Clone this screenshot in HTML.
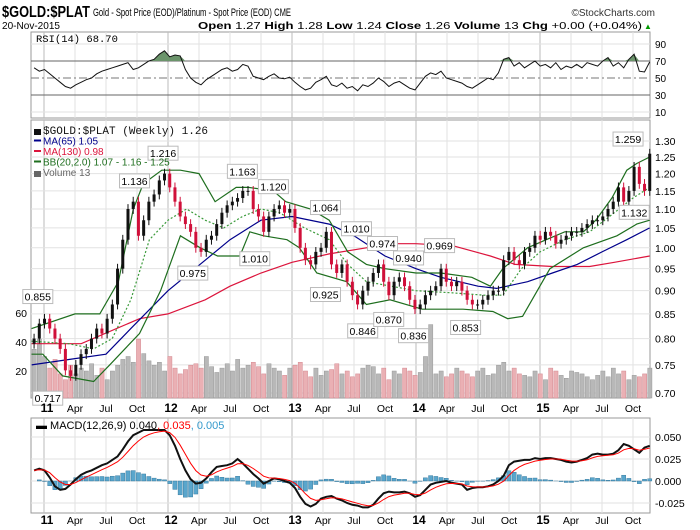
<!DOCTYPE html>
<html><head><meta charset="utf-8"><style>
body{margin:0;background:#fff}
svg{display:block;font-family:"Liberation Sans Narrow","Liberation Sans",sans-serif}
</style></head><body>
<svg id="c" width="700" height="530" viewBox="0 0 700 530">
<text x="2" y="17" font-size="16" font-weight="bold" textLength="88" lengthAdjust="spacingAndGlyphs">$GOLD:$PLAT</text>
<text x="93" y="16" font-size="11" textLength="198" lengthAdjust="spacingAndGlyphs">Gold - Spot Price (EOD)/Platinum  - Spot Price (EOD)  CME</text>
<text x="655" y="16" font-size="10" text-anchor="end" fill="#333">©StockCharts.com</text>
<text x="2" y="29" font-size="10.5" textLength="58" lengthAdjust="spacingAndGlyphs">20-Nov-2015</text>
<text x="198" y="29" font-size="10.5" textLength="444" lengthAdjust="spacingAndGlyphs"><tspan font-weight="bold">Open</tspan> 1.27 <tspan font-weight="bold">High</tspan> 1.28 <tspan font-weight="bold">Low</tspan> 1.24 <tspan font-weight="bold">Close</tspan> 1.26 <tspan font-weight="bold">Volume</tspan> 13 <tspan font-weight="bold">Chg</tspan> +0.00 (+0.04%)</text>
<text x="644" y="29" font-size="8" fill="#090">▲</text>
</svg>
<script>
const closes=[.80,.83,.84,.82,.80,.78,.74,.73,.75,.77,.78,.80,.82,.81,.84,.87,.95,1.02,1.10,1.12,1.03,1.07,1.12,1.14,1.18,1.20,
1.16,1.12,1.08,1.06,1.04,1.00,.99,1.02,1.03,1.06,1.09,1.11,1.12,1.13,1.15,1.15,1.10,1.08,1.04,1.08,1.10,1.11,1.09,1.10,
1.05,1.00,.97,.96,.99,1.00,1.04,.96,.94,.96,.92,.89,.87,.90,.92,.94,.96,.92,.89,.92,.93,.91,.88,.86,
.87,.89,.90,.91,.95,.92,.91,.92,.90,.88,.87,.87,.88,.89,.90,.90,.97,.99,.97,.96,.99,1.00,1.03,1.02,
1.04,1.03,1.01,1.02,1.03,1.04,1.04,1.05,1.06,1.07,1.07,1.08,1.10,1.12,1.16,1.12,1.15,1.22,1.17,1.15,1.26];
const volumes=[35,42,30,22,28,18,14,24,18,22,20,25,17,22,14,20,24,28,30,26,42,32,27,24,26,20,30,22,18,21,24,25,22,30,23,19,22,25,20,28,22,24,26,23,18,25,22,20,17,22,24,26,20,16,22,17,20,21,25,18,20,16,18,22,24,23,18,22,14,20,18,22,20,17,19,30,52,18,20,16,18,22,20,18,16,20,22,17,18,24,26,20,22,18,17,16,20,18,14,22,20,17,15,20,19,18,16,14,17,20,16,22,18,20,14,17,16,18,22];
const rsi=[62,58,60,55,50,45,40,38,42,45,48,50,55,58,60,62,64,66,68,60,62,66,70,72,78,82,75,77,76,60,50,45,42,48,52,56,60,62,58,60,66,64,52,50,48,52,55,50,49,51,45,40,36,38,45,48,52,42,40,44,38,40,35,42,40,44,50,46,40,44,46,42,38,36,44,52,56,54,58,50,48,46,44,40,38,42,46,50,48,56,72,74,64,68,62,66,70,64,66,62,68,60,64,62,66,62,68,66,64,70,74,64,68,62,72,78,58,57,69];
const macd=[.012,.014,.012,.004,-.006,-.010,-.009,-.004,.002,.007,.010,.012,.015,.018,.020,.024,.028,.036,.045,.052,.055,.058,.058,.058,.058,.058,.052,.040,.025,.012,.002,-.003,-.002,.003,.010,.016,.017,.018,.020,.025,.020,.014,.008,.003,-.003,.000,.003,.002,.000,-.002,-.008,-.018,-.026,-.029,-.026,-.020,-.018,-.017,-.020,-.022,-.025,-.027,-.028,-.030,-.030,-.027,-.020,-.014,-.012,-.013,-.013,-.012,-.014,-.018,-.016,-.010,-.004,-.002,-.001,.000,-.002,-.003,-.004,-.010,-.008,-.007,-.007,-.006,-.004,.000,.006,.018,.022,.023,.024,.024,.026,.025,.026,.026,.025,.024,.022,.021,.022,.024,.026,.030,.031,.030,.030,.031,.035,.042,.040,.036,.032,.038,.040];
const ma65=[[2010.9,.75],[2011.2,.76],[2011.5,.77],[2011.7,.82],[2012.0,.90],[2012.3,.97],[2012.5,1.02],[2012.75,1.07],[2013.0,1.08],[2013.3,1.06],[2013.5,1.03],[2013.75,.98],[2014.0,.95],[2014.2,.93],[2014.5,.91],[2014.65,.905],[2014.9,.92],[2015.1,.94],[2015.3,.96],[2015.5,.99],[2015.7,1.02],[2015.885,1.05]];
const ma130=[[2010.9,.79],[2011.3,.79],[2011.77,.84],[2012.0,.85],[2012.3,.88],[2012.5,.91],[2012.75,.94],[2013.0,.965],[2013.3,.985],[2013.6,1.0],[2013.8,1.01],[2014.0,1.01],[2014.3,1.005],[2014.6,.98],[2014.8,.96],[2015.1,.955],[2015.4,.955],[2015.6,.965],[2015.885,.98]];
const bbUpper=[[2010.9,.82],[2011.25,.85],[2011.45,.85],[2011.6,.92],[2011.72,1.10],[2011.8,1.17],[2011.95,1.21],[2012.1,1.21],[2012.25,1.20],[2012.38,1.12],[2012.55,1.16],[2012.65,1.16],[2012.85,1.15],[2012.95,1.12],[2013.15,1.10],[2013.3,1.07],[2013.45,.99],[2013.6,.96],[2013.75,.95],[2014.0,.94],[2014.2,.94],[2014.45,.93],[2014.6,.91],[2014.7,.95],[2014.9,1.0],[2015.05,1.02],[2015.2,1.04],[2015.35,1.04],[2015.45,1.07],[2015.58,1.13],[2015.7,1.21],[2015.78,1.23],[2015.885,1.25]];
const bbLower=[[2010.9,.77],[2010.99,.77],[2011.15,.73],[2011.4,.72],[2011.53,.75],[2011.77,.81],[2011.94,.90],[2012.1,1.03],[2012.26,1.0],[2012.4,.98],[2012.58,.98],[2012.66,1.04],[2012.77,1.03],[2012.96,1.02],[2013.06,1.0],[2013.2,.94],[2013.44,.92],[2013.6,.87],[2013.79,.88],[2014.05,.86],[2014.38,.86],[2014.62,.855],[2014.74,.84],[2014.86,.845],[2015.08,.95],[2015.35,1.0],[2015.62,1.03],[2015.78,1.06],[2015.885,1.07]];
const bbMid=[[2010.9,.795],[2011.2,.79],[2011.4,.78],[2011.55,.80],[2011.7,.88],[2011.85,1.02],[2012.0,1.07],[2012.15,1.10],[2012.3,1.07],[2012.45,1.05],[2012.6,1.08],[2012.75,1.10],[2012.9,1.09],[2013.1,1.05],[2013.3,1.02],[2013.45,.96],[2013.6,.92],[2013.8,.91],[2014.0,.90],[2014.3,.895],[2014.55,.89],[2014.7,.89],[2014.85,.95],[2015.0,.99],[2015.2,1.02],[2015.4,1.04],[2015.6,1.09],[2015.75,1.13],[2015.885,1.16]];
const annotations=[[2010.95,.855,1],[2011.03,.717,0],[2011.73,1.136,1],[2011.96,1.216,1],[2012.20,.975,0],[2012.60,1.163,1],[2012.70,1.010,0],[2012.85,1.120,1],[2013.27,1.064,1],[2013.27,.925,0],[2013.52,1.010,1],[2013.57,.846,0],[2013.73,.974,1],[2013.78,.870,0],[2013.94,.940,1],[2013.98,.836,0],[2014.19,.969,1],[2014.40,.853,0],[2015.71,1.259,1],[2015.76,1.132,0]];
const priceTicks=[.70,.75,.80,.85,.90,.95,1.00,1.05,1.10,1.15,1.20,1.25,1.30];
const volTicks=[20,40,60];
const rsiTicks=[10,30,50,70,90];
const macdTicks=[-.025,0,.025,.05];
const xLabels=[["11",2011,1],["Apr",2011.25,0],["Jul",2011.5,0],["Oct",2011.75,0],["12",2012,1],["Apr",2012.25,0],["Jul",2012.5,0],["Oct",2012.75,0],["13",2013,1],["Apr",2013.25,0],["Jul",2013.5,0],["Oct",2013.75,0],["14",2014,1],["Apr",2014.25,0],["Jul",2014.5,0],["Oct",2014.75,0],["15",2015,1],["Apr",2015.25,0],["Jul",2015.5,0],["Oct",2015.75,0]];

const svg=document.getElementById('c');const NS='http://www.w3.org/2000/svg';
function mk(t,a,p){const e=document.createElementNS(NS,t);for(const k in a)e.setAttribute(k,a[k]);(p||svg).appendChild(e);return e;}
const L=31,R=650;
const X=yr=>44+(yr-2011)*124;
const t0=2010.92,step=(2015.885-2010.92)/(closes.length-1);
const dateAt=i=>t0+i*step;
const Y=p=>141+(Math.log(1.3)-Math.log(p))*407;
const VY=v=>400-v*1.45;
const RY=v=>61+(70-v)*0.85;
const MY=v=>481-v*880;

function panel(top,bot,name){
  const r=mk('rect',{x:L,y:top,width:R-L,height:bot-top,fill:'#fff',stroke:'#999'});
  
  
  xLabels.forEach(l=>{const ln=mk('line',{x1:X(l[1]),x2:X(l[1]),y1:top,y2:bot,stroke:l[2]?'#bbb':'#e2e2e2'});
    
    });
}
function poly(pts,fy,attrs,name){
  const p=mk('polyline',Object.assign({points:pts.map(d=>X(d[0]).toFixed(1)+','+fy(d[1]).toFixed(1)).join(' '),fill:'none'},attrs));
  
  
  return p;
}

// RSI panel
panel(32,118,'rsi-panel');
rsiTicks.forEach(v=>{
  const ln=mk('line',{x1:L,x2:R,y1:RY(v),y2:RY(v),stroke:(v==70||v==30)?'#666':(v==50?'#777':'#e2e2e2'),'stroke-dasharray':v==50?'8,3,2,3':'none'});
  
  
  const t=mk('text',{x:655,y:RY(v)+4,'font-size':10});t.textContent=v;
  
  
});
const rsiPts=rsi.map((v,i)=>[dateAt(i),v]);
const cp=mk('clipPath',{id:'ob'});mk('rect',{x:L,y:32,width:R-L,height:RY(70)-32},cp);
const rsiFill=mk('polygon',{points:rsiPts.map(d=>X(d[0]).toFixed(1)+','+Math.min(RY(d[1]),RY(70)).toFixed(1)).join(' ')+' '+X(rsiPts[rsiPts.length-1][0])+','+RY(70)+' '+X(rsiPts[0][0])+','+RY(70),fill:'#6b946b','clip-path':'url(#ob)'});


poly(rsiPts,RY,{stroke:'#111','stroke-width':1},'rsi-line');
const rl=mk('text',{x:36,y:42,'font-size':10.5,'font-family':'Liberation Mono,monospace'});rl.textContent='RSI(14) 68.70';



// Main panel
panel(120,398,'price-panel');
priceTicks.forEach(p=>{
  const ln=mk('line',{x1:L,x2:R,y1:Y(p),y2:Y(p),stroke:'#e2e2e2'});
  
  
  const t=mk('text',{x:655,y:Y(p)+4,'font-size':10.5});t.textContent=p.toFixed(2);
  
  
});
volTicks.forEach(v=>{const t=mk('text',{x:27,y:VY(v)+4,'font-size':10.5,'text-anchor':'end'});t.textContent=v;
  
  });
closes.forEach((c,i)=>{
  const up=i==0||c>=closes[i-1];const v=volumes[i]||15;
  const b=mk('rect',{x:X(dateAt(i))-2,y:VY(v),width:4.2,height:398-VY(v),fill:up?'#b8b8b8':'#eab0b4',stroke:up?'#999':'#d48890','stroke-width':.5});
  
  
});
poly(ma130,Y,{stroke:'#dc143c','stroke-width':1.2},'ma130-line');
poly(ma65,Y,{stroke:'#00008b','stroke-width':1.2},'ma65-line');
poly(bbUpper,Y,{stroke:'#1e6e1e','stroke-width':1.2},'bb-upper');
poly(bbLower,Y,{stroke:'#1e6e1e','stroke-width':1.2},'bb-lower');
poly(bbMid,Y,{stroke:'#3a9a3a','stroke-width':1.2,'stroke-dasharray':'2,2'},'bb-middle');
closes.forEach((c,i)=>{
  const o=i==0?.79:closes[i-1];const x=X(dateAt(i));const up=c>=o;
  const col=up?'#111':'#d0103a';
  const hi=Math.max(o,c)*1.012,lo=Math.min(o,c)*0.988;
  const g=mk('g',{});
  
  
  mk('line',{x1:x,x2:x,y1:Y(hi),y2:Y(lo),stroke:col,'stroke-width':1},g);
  mk('rect',{x:x-1.5,y:Math.min(Y(o),Y(c)),width:3,height:Math.max(1,Math.abs(Y(o)-Y(c))),fill:col},g);
});
annotations.forEach(a=>{
  const x=X(a[0]),y=Y(a[1]);const g=mk('g',{});
  
  
  const by=a[2]?y-22:y+8;
  mk('rect',{x:x-15,y:by,width:30,height:14,fill:'#fff',stroke:'#bbb'},g);
  const t=mk('text',{x:x,y:by+11,'font-size':10.5,'text-anchor':'middle'},g);t.textContent=a[1].toFixed(3);
});
const leg=[['$GOLD:$PLAT (Weekly) 1.26','#111'],['MA(65) 1.05','#00008b'],['MA(130) 0.98','#dc143c'],['BB(20,2.0) 1.07 - 1.16 - 1.25','#1e6e1e'],['Volume 13','#666']];
leg.forEach((l,i)=>{
  const y=134+i*10.5;
  const m=mk('rect',{x:34,y:y-5,width:7,height:i==0||i==4?6:2,fill:l[1]});
  
  
  const t=mk('text',{x:43,y:y,'font-size':i==0?11:10,fill:l[1],'font-family':i==0?'Liberation Mono,monospace':'inherit'});t.textContent=l[0];
  
  
});

// MACD
panel(418,513,'macd-panel');
macdTicks.forEach(v=>{
  const ln=mk('line',{x1:L,x2:R,y1:MY(v),y2:MY(v),stroke:'#e2e2e2'});
  
  
  const t=mk('text',{x:655,y:MY(v)+4,'font-size':10.5});t.textContent=v.toFixed(3);
  
  
});
const signal=[];let s=macd[0];macd.forEach(v=>{s=s+(v-s)*0.36;signal.push(s);});
macd.forEach((v,i)=>{
  const h=v-signal[i];const x=X(dateAt(i));
  const b=mk('rect',{x:x-2.1,y:Math.min(MY(0),MY(h)),width:4.2,height:Math.abs(MY(h)-MY(0)),fill:'#5aa6cc',stroke:'#2a6f95','stroke-width':.4});
  
  
});
poly(macd.map((v,i)=>[dateAt(i),v]),MY,{stroke:'#111','stroke-width':2},'macd-line');
poly(signal.map((v,i)=>[dateAt(i),v]),MY,{stroke:'#f00','stroke-width':1},'macd-signal-line');
const ml=mk('text',{x:36,y:429,'font-size':11});
ml.innerHTML='<tspan font-weight="bold">▬</tspan> MACD(12,26,9) 0.040<tspan fill="#f00">, 0.035</tspan><tspan fill="#39c">, 0.005</tspan>';



[412,524].forEach((yy,k)=>xLabels.forEach(l=>{
  const t=mk('text',{x:X(l[1])+(l[2]?3:0),y:yy,'font-size':l[2]?12:10.5,'font-weight':l[2]?'bold':'normal','text-anchor':'middle'});t.textContent=l[0];
  
  
}));
</script>
</body></html>
